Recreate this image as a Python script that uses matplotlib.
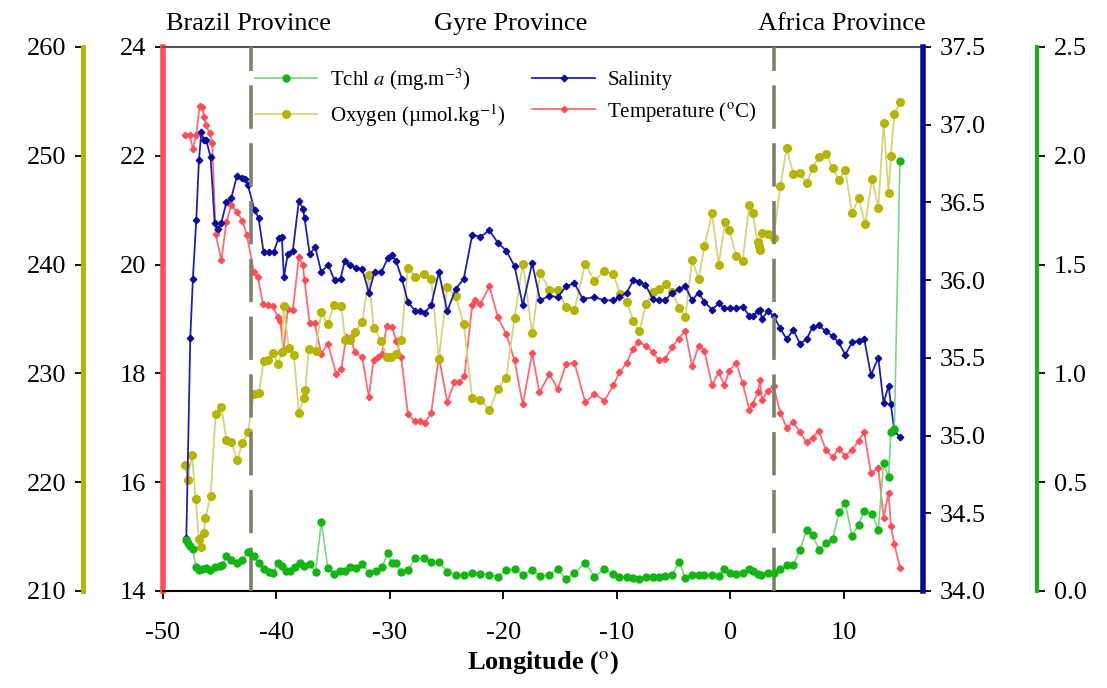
import matplotlib
matplotlib.use("Agg")
import matplotlib.pyplot as plt

plt.rcParams['font.family'] = ['Liberation Serif', 'DejaVu Serif']
plt.rcParams['mathtext.fontset'] = 'stix'
plt.rcParams['axes.unicode_minus'] = False

# --- datos ---
lon_temp = [-48.09, -47.65, -47.36, -47.06, -46.77, -46.53, -46.39, -46.18, -45.89, -45.65,
            -45.36, -44.85, -44.41, -43.97, -43.48, -43.00, -42.60, -41.98, -41.63, -41.19,
            -40.75, -40.31, -39.87, -39.66, -39.37, -38.99, -38.55, -38.02, -37.67, -37.52,
            -37.07, -36.63, -36.04, -35.46, -34.72, -34.28, -33.84, -33.40, -33.11, -32.43,
            -31.85, -31.44, -31.06, -30.70, -30.26, -29.79, -29.44, -29.00, -28.41, -27.82,
            -27.38, -26.94, -26.35, -25.68, -24.94, -24.30, -23.86, -23.42, -22.74, -22.45,
            -22.01, -21.22, -20.48, -19.74, -19.01, -18.28, -17.45, -16.81, -15.93, -15.20,
            -14.46, -13.73, -12.78, -11.96, -11.08, -10.29, -9.76, -9.12, -8.59, -8.09,
            -7.41, -6.83, -6.30, -5.71, -5.12, -4.54, -3.95, -3.36, -2.78, -2.27,
            -1.60, -1.01, -0.51, -0.07, 0.52, 1.10, 1.69, 1.98, 2.42, 2.63,
            2.81, 3.30, 3.83, 4.42, 4.98, 5.57, 6.16, 6.74, 7.27, 7.80,
            8.45, 9.03, 9.56, 10.15, 10.74, 11.32, 11.82, 12.41, 13.06, 13.52,
            13.96, 14.17, 14.47, 14.97]
temp = [22.39, 22.39, 22.13, 22.39, 22.92, 22.90, 22.72, 22.56, 22.41, 22.23,
        20.57, 20.08, 20.78, 21.09, 20.97, 20.81, 20.54, 19.86, 19.77, 19.28,
        19.25, 19.23, 19.03, 18.97, 18.42, 19.19, 19.17, 20.14, 19.99, 19.71,
        18.92, 18.92, 18.36, 18.54, 17.99, 18.08, 18.66, 18.66, 18.39, 18.30,
        17.56, 18.24, 18.30, 18.36, 18.88, 18.85, 18.60, 18.30, 17.25, 17.13,
        17.13, 17.08, 17.28, 18.31, 17.47, 17.84, 17.84, 17.96, 19.25, 19.34,
        19.28, 19.60, 19.03, 18.73, 18.24, 17.43, 18.37, 17.65, 17.99, 17.71,
        18.17, 18.20, 17.47, 17.62, 17.50, 17.78, 18.02, 18.19, 18.45, 18.57,
        18.51, 18.39, 18.25, 18.27, 18.48, 18.64, 18.78, 18.13, 18.51, 18.42,
        17.78, 18.02, 17.78, 18.05, 18.20, 17.82, 17.33, 17.43, 17.65, 17.87,
        17.51, 17.68, 17.76, 17.28, 17.00, 17.10, 16.92, 16.73, 16.82, 16.95,
        16.59, 16.46, 16.61, 16.49, 16.59, 16.76, 16.92, 16.16, 16.27, 15.35,
        15.81, 15.20, 14.86, 14.43]

lon_sal = [-47.94, -47.59, -47.36, -47.06, -46.83, -46.62, -46.39, -46.18, -45.80, -45.44,
           -45.15, -44.85, -44.41, -43.97, -43.48, -43.00, -42.74, -42.51, -41.92, -41.57,
           -41.13, -40.69, -40.25, -39.81, -39.52, -39.34, -38.99, -38.55, -38.02, -37.67,
           -37.52, -37.07, -36.57, -36.04, -35.46, -34.87, -34.34, -33.99, -33.55, -33.02,
           -32.43, -31.85, -31.35, -30.76, -30.18, -29.82, -29.44, -28.94, -28.41, -27.74,
           -27.32, -26.94, -26.35, -25.68, -24.94, -24.21, -23.48, -22.74, -22.01, -21.22,
           -20.48, -19.74, -19.01, -18.28, -17.45, -16.75, -15.93, -15.20, -14.46, -13.73,
           -13.00, -11.96, -11.08, -10.29, -9.76, -9.12, -8.53, -8.00, -7.47, -6.83,
           -6.30, -5.71, -5.12, -4.54, -3.95, -3.36, -2.78, -2.27, -1.60, -1.01,
           -0.51, 0.00, 0.52, 1.10, 1.69, 2.04, 2.42, 2.63, 2.81, 3.30,
           3.83, 4.42, 4.98, 5.57, 6.16, 6.74, 7.27, 7.80, 8.45, 9.03,
           9.56, 10.15, 10.74, 11.32, 11.82, 12.41, 13.06, 13.52, 13.96, 14.17,
           14.47, 14.97]
sal = [34.34, 35.63, 36.01, 36.39, 36.77, 36.95, 36.90, 36.90, 36.79, 36.37,
       36.33, 36.37, 36.50, 36.53, 36.67, 36.66, 36.65, 36.61, 36.45, 36.40,
       36.18, 36.18, 36.18, 36.27, 36.28, 36.02, 36.17, 36.19, 36.51, 36.46,
       36.40, 36.17, 36.21, 36.05, 36.10, 36.00, 36.01, 36.12, 36.10, 36.08,
       36.07, 35.92, 36.05, 36.05, 36.14, 36.16, 36.12, 36.01, 35.86, 35.80,
       35.80, 35.79, 35.84, 36.05, 35.80, 35.94, 36.01, 36.29, 36.28, 36.32,
       36.24, 36.19, 36.09, 35.84, 36.11, 35.87, 35.90, 35.89, 35.96, 35.98,
       35.88, 35.89, 35.87, 35.87, 35.89, 35.92, 36.00, 35.99, 35.97, 35.88,
       35.87, 35.87, 35.92, 35.94, 35.96, 35.87, 35.92, 35.86, 35.81, 35.85,
       35.82, 35.82, 35.82, 35.83, 35.77, 35.77, 35.80, 35.81, 35.75, 35.80,
       35.77, 35.69, 35.62, 35.68, 35.59, 35.62, 35.70, 35.71, 35.67, 35.64,
       35.60, 35.52, 35.60, 35.61, 35.62, 35.39, 35.50, 35.21, 35.32, 35.20,
       35.03, 34.99]

lon_oxy = [-48.09, -47.80, -47.44, -47.12, -46.83, -46.62, -46.41, -46.26, -45.80, -45.36,
           -44.85, -44.41, -43.97, -43.45, -43.00, -42.51, -41.98, -41.54, -41.13, -40.75,
           -40.31, -39.87, -39.48, -39.37, -38.90, -38.46, -38.02, -37.60, -37.45, -37.14,
           -36.55, -36.04, -35.46, -34.96, -34.28, -33.93, -33.55, -33.11, -32.43, -31.85,
           -31.44, -30.76, -30.26, -29.88, -29.44, -29.00, -28.41, -27.74, -27.03, -26.35,
           -25.68, -24.94, -24.21, -23.48, -22.74, -22.01, -21.22, -20.48, -19.74, -19.01,
           -18.28, -17.45, -16.75, -15.93, -15.20, -14.46, -13.73, -12.78, -11.96, -11.08,
           -10.29, -9.70, -9.12, -8.53, -8.00, -7.41, -6.83, -6.24, -5.65, -5.12,
           -4.48, -3.95, -3.36, -2.78, -2.27, -1.60, -1.01, -0.45, -0.07, 0.52,
           1.10, 1.69, 1.98, 2.42, 2.57, 2.66, 2.81, 3.30, 3.83, 4.42,
           4.98, 5.57, 6.16, 6.74, 7.27, 7.80, 8.45, 9.03, 9.56, 10.15,
           10.74, 11.32, 11.91, 12.50, 13.06, 13.52, 13.96, 14.17, 14.47, 14.97]
oxy = [221.6, 220.2, 222.5, 218.5, 214.8, 214.0, 215.3, 216.7, 218.7, 226.3,
       226.9, 223.9, 223.7, 222.0, 223.6, 224.6, 228.1, 228.2, 231.1, 231.2,
       231.9, 230.9, 232.0, 236.2, 232.3, 231.7, 226.4, 227.7, 228.5, 232.2,
       232.1, 235.6, 234.5, 236.3, 236.2, 233.1, 233.1, 233.8, 234.7, 239.0,
       234.2, 233.0, 231.5, 231.5, 231.8, 233.1, 239.7, 238.9, 239.1, 238.7,
       231.3, 237.9, 237.1, 234.5, 227.7, 227.6, 226.6, 228.6, 229.6, 235.1,
       240.1, 233.7, 239.2, 237.7, 237.7, 236.1, 235.8, 240.1, 238.5, 239.4,
       239.1, 237.3, 236.6, 234.8, 233.9, 236.4, 237.5, 237.8, 238.2, 237.5,
       236.0, 235.2, 240.4, 238.7, 241.7, 244.7, 240.0, 243.9, 243.2, 240.8,
       240.3, 245.5, 244.7, 242.1, 241.7, 241.3, 242.9, 242.8, 242.4, 247.2,
       250.7, 248.3, 248.4, 247.5, 248.9, 249.9, 250.2, 248.9, 247.8, 248.7,
       244.7, 246.1, 243.7, 247.9, 245.2, 253.0, 246.6, 250.0, 253.8, 254.9]

lon_chl = [-48.00, -47.80, -47.59, -47.36, -47.12, -46.83, -46.53, -46.18, -45.82, -45.44,
           -45.00, -44.77, -44.41, -43.97, -43.48, -43.00, -42.51, -41.98, -41.54, -41.13,
           -40.69, -40.31, -39.87, -39.48, -39.13, -38.78, -38.40, -37.96, -37.58, -37.07,
           -36.55, -36.04, -35.46, -34.96, -34.43, -33.99, -33.55, -33.02, -32.43, -31.85,
           -31.26, -30.70, -30.18, -29.82, -29.44, -29.00, -28.41, -27.74, -27.03, -26.35,
           -25.68, -24.94, -24.21, -23.48, -22.74, -22.01, -21.22, -20.48, -19.74, -19.01,
           -18.28, -17.45, -16.75, -15.93, -15.20, -14.46, -13.73, -12.78, -11.96, -11.08,
           -10.29, -9.76, -9.12, -8.53, -8.00, -7.41, -6.83, -6.30, -5.71, -5.12,
           -4.48, -3.95, -3.36, -2.78, -2.27, -1.60, -1.01, -0.51, 0.00, 0.52,
           1.10, 1.69, 2.04, 2.42, 2.72, 3.30, 3.83, 4.42, 4.98, 5.57,
           6.16, 6.74, 7.27, 7.86, 8.45, 9.03, 9.62, 10.15, 10.74, 11.32,
           11.82, 12.50, 13.06, 13.52, 13.96, 14.17, 14.47, 14.97]
chl = [0.234, 0.219, 0.207, 0.192, 0.112, 0.097, 0.100, 0.104, 0.097, 0.109,
       0.115, 0.119, 0.161, 0.142, 0.130, 0.142, 0.181, 0.161, 0.127, 0.100,
       0.089, 0.081, 0.127, 0.115, 0.093, 0.093, 0.109, 0.130, 0.115, 0.124,
       0.089, 0.318, 0.104, 0.078, 0.093, 0.093, 0.109, 0.104, 0.124, 0.084,
       0.093, 0.109, 0.173, 0.127, 0.127, 0.089, 0.097, 0.150, 0.150, 0.135,
       0.135, 0.089, 0.074, 0.074, 0.084, 0.078, 0.074, 0.066, 0.097, 0.100,
       0.074, 0.097, 0.069, 0.074, 0.100, 0.054, 0.081, 0.130, 0.066, 0.100,
       0.078, 0.066, 0.063, 0.058, 0.054, 0.063, 0.063, 0.063, 0.069, 0.074,
       0.135, 0.058, 0.074, 0.074, 0.074, 0.074, 0.069, 0.100, 0.084, 0.078,
       0.084, 0.100, 0.093, 0.078, 0.074, 0.084, 0.084, 0.100, 0.119, 0.119,
       0.188, 0.280, 0.257, 0.188, 0.222, 0.238, 0.364, 0.403, 0.253, 0.303,
       0.369, 0.354, 0.280, 0.587, 0.523, 0.732, 0.743, 1.978]

province_lon = [-42.27, 3.83]
province_names = ['Brazil Province', 'Gyre Province', 'Africa Province']

# colores
c_temp = '#FF4D5A'
c_sal = '#0A0A9C'
c_oxy = '#B5B500'
c_chl = '#12B512'

fig = plt.figure(figsize=(11.07, 6.88), dpi=100)
ax = fig.add_axes([0.1472, 0.141, 0.6866, 0.7907])
ax_ox = ax.twinx()
ax_sal = ax.twinx()
ax_chl = ax.twinx()

# Oxigeno
l_oxy, = ax_ox.plot(lon_oxy, oxy, color='#D4D47A', lw=1.3, marker='o', ms=5.5,
                    mfc=c_oxy, mec=c_oxy, label=u'Oxygen (\u00b5mol.kg$^{-1}$)')
# Temperatura
l_temp, = ax.plot(lon_temp, temp, color='#FF6A74', lw=1.3, marker='D', ms=3.3,
                  mfc=c_temp, mec=c_temp, label='Temperature ($^{\\rm o}$C)')
# Salinidad
l_sal, = ax_sal.plot(lon_sal, sal, color='#2020B0', lw=1.3, marker='D', ms=3.3,
                     mfc=c_sal, mec=c_sal, label='Salinity')
# Clorofila
l_chl, = ax_chl.plot(lon_chl, chl, color='#7ED67E', lw=1.2, marker='o', ms=5,
                     mfc=c_chl, mec=c_chl, label='Tchl $\\it{a}$ (mg.m$^{-3}$)')

for xv in province_lon:
    ax_chl.axvline(xv, color='#7F7F6E', lw=2.6, dashes=(12, 4), zorder=0)

ax.set_xlim(-50, 17)
ax.set_ylim(14, 24)
ax_sal.set_ylim(34.0, 37.5)
ax_ox.set_ylim(210, 260)
ax_chl.set_ylim(0, 2.5)

ax.set_xticks([-50, -40, -30, -20, -10, 0, 10])
ax.set_yticks([14, 16, 18, 20, 22, 24])
ax_sal.set_yticks([34.0, 34.5, 35.0, 35.5, 36.0, 36.5, 37.0, 37.5])
ax_sal.set_yticklabels(['%.1f' % v for v in [34.0, 34.5, 35.0, 35.5, 36.0, 36.5, 37.0, 37.5]])
ax_ox.set_yticks([210, 220, 230, 240, 250, 260])
ax_chl.set_yticks([0.0, 0.5, 1.0, 1.5, 2.0, 2.5])
ax_chl.set_yticklabels(['%.1f' % v for v in [0.0, 0.5, 1.0, 1.5, 2.0, 2.5]])

# ejes y ejes extra
ax.spines['left'].set_color(c_temp)
ax.spines['left'].set_linewidth(4)
ax.spines['right'].set_visible(False)
ax.spines['top'].set_color('#555555')
ax.spines['top'].set_linewidth(1.5)
ax.spines['bottom'].set_linewidth(1.5)

for a in [ax_ox, ax_sal, ax_chl]:
    a.spines['top'].set_visible(False)
    a.spines['bottom'].set_visible(False)
    a.spines['left'].set_visible(False)

ax_ox.spines['right'].set_visible(False)
ax_ox.spines['left'].set_visible(True)
ax_ox.spines['left'].set_position(('axes', -0.105))
ax_ox.spines['left'].set_color(c_oxy)
ax_ox.spines['left'].set_linewidth(3.5)
ax_ox.yaxis.set_ticks_position('left')
ax_ox.yaxis.set_label_position('left')

ax_sal.spines['right'].set_color(c_sal)
ax_sal.spines['right'].set_linewidth(4)

ax_chl.spines['right'].set_position(('axes', 1.15))
ax_chl.spines['right'].set_color(c_chl)
ax_chl.spines['right'].set_linewidth(3)

for a in [ax, ax_ox, ax_sal, ax_chl]:
    a.tick_params(axis='both', direction='out', length=6, width=1.3,
                  labelsize=19, pad=6)
ax.tick_params(axis='x', pad=16)

ax.set_xlabel('Longitude ($^{\\rm o}$)', fontsize=19, fontweight='bold', labelpad=4)

prov_x = [0.112, 0.457, 0.893]
for xp, name in zip(prov_x, province_names):
    ax.text(xp, 1.022, name, transform=ax.transAxes, ha='center', va='bottom', fontsize=19)

ax_chl.legend(handles=[l_chl, l_oxy, l_sal, l_temp], loc='upper left',
              bbox_to_anchor=(0.11, 0.98), ncol=2, frameon=False, fontsize=15,
              handlelength=3.0, columnspacing=1.3, labelspacing=0.45,
              handletextpad=0.6, borderaxespad=0)

fig.savefig('out.png', dpi=100)
